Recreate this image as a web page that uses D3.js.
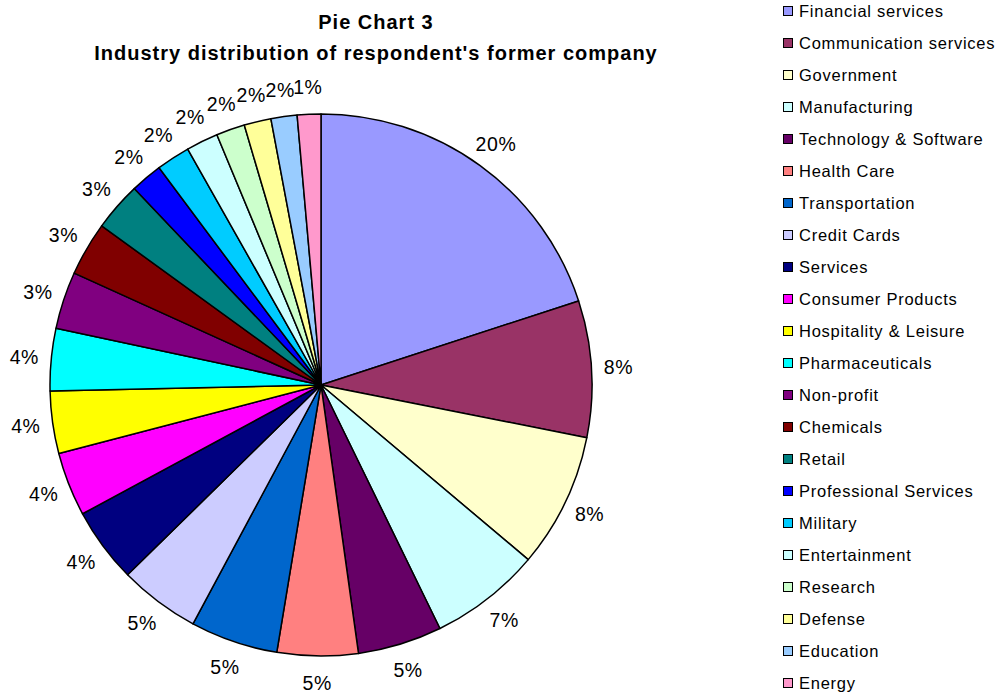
<!DOCTYPE html>
<html><head><meta charset="utf-8">
<script src="https://cdn.jsdelivr.net/npm/d3@7/dist/d3.min.js"></script>
<style>body{margin:0;background:#fff}svg{display:block;font-family:"Liberation Sans",Arial,sans-serif}</style>
</head><body>
<svg id="c" width="998" height="692"></svg>
<script>
const categories = ["Financial services","Communication services","Government","Manufacturing","Technology & Software","Health Care","Transportation","Credit Cards","Services","Consumer Products","Hospitality & Leisure","Pharmaceuticals","Non-profit","Chemicals","Retail","Professional Services","Military","Entertainment","Research","Defense","Education","Energy"];
const values = [19.9,8.1,8.0,6.6,5.0,4.8,5.2,4.8,4.45,3.8,3.7,3.7,3.4,3.2,2.9,1.9,2.0,1.9,1.7,1.6,1.55,1.4];
const colors = ["#9999FF","#993366","#FFFFCC","#CCFFFF","#660066","#FF8080","#0066CC","#CCCCFF","#000080","#FF00FF","#FFFF00","#00FFFF","#800080","#800000","#008080","#0000FF","#00CCFF","#CCFFFF","#CCFFCC","#FFFF99","#99CCFF","#FF99CC"];
const titleLines = ["Pie Chart 3","Industry distribution of respondent's former company"];

const svg = d3.select("#c");
const cx = 321, cy = 385, R = 271, labelR = 298;
const total = d3.sum(values);
const data = categories.map((c,i)=>({c, v: values[i], col: colors[i]}));
const pie = d3.pie().value(d=>d.v).sort(null);
const arcs = pie(data);
const arc = d3.arc().innerRadius(0).outerRadius(R);
const g = svg.append("g").attr("transform",`translate(${cx},${cy})`);
g.selectAll("path").data(arcs).join("path")
  .attr("d",arc).attr("fill",d=>d.data.col)
  .attr("stroke","#000").attr("stroke-width",1.5).attr("stroke-linejoin","round");
const lab = d3.arc().innerRadius(labelR).outerRadius(labelR);
g.selectAll("text.l").data(arcs).join("text").attr("class","l")
  .attr("transform",d=>`translate(${lab.centroid(d)})`)
  .attr("text-anchor","middle").attr("dominant-baseline","central")
  .attr("font-size",19.5).attr("letter-spacing",0.6).attr("fill","#000")
  .text(d=>Math.round(d.data.v/total*100)+"%");

svg.selectAll("text.t").data(titleLines).join("text").attr("class","t")
  .attr("x",376).attr("y",(d,i)=>29+i*31).attr("text-anchor","middle")
  .attr("font-weight","bold").attr("font-size",20).attr("letter-spacing",1).text(d=>d);

const lg = svg.append("g");
const rows = lg.selectAll("g").data(data).join("g")
  .attr("transform",(d,i)=>`translate(783,${11+i*32})`);
rows.append("rect").attr("x",0.5).attr("y",-4.5).attr("width",9).attr("height",9)
  .attr("fill",d=>d.col).attr("stroke","#000").attr("stroke-width",1);
rows.append("text").attr("x",16).attr("y",0).attr("dominant-baseline","central")
  .attr("font-size",16.5).attr("letter-spacing",0.75).text(d=>d.c);
</script>
</body></html>
